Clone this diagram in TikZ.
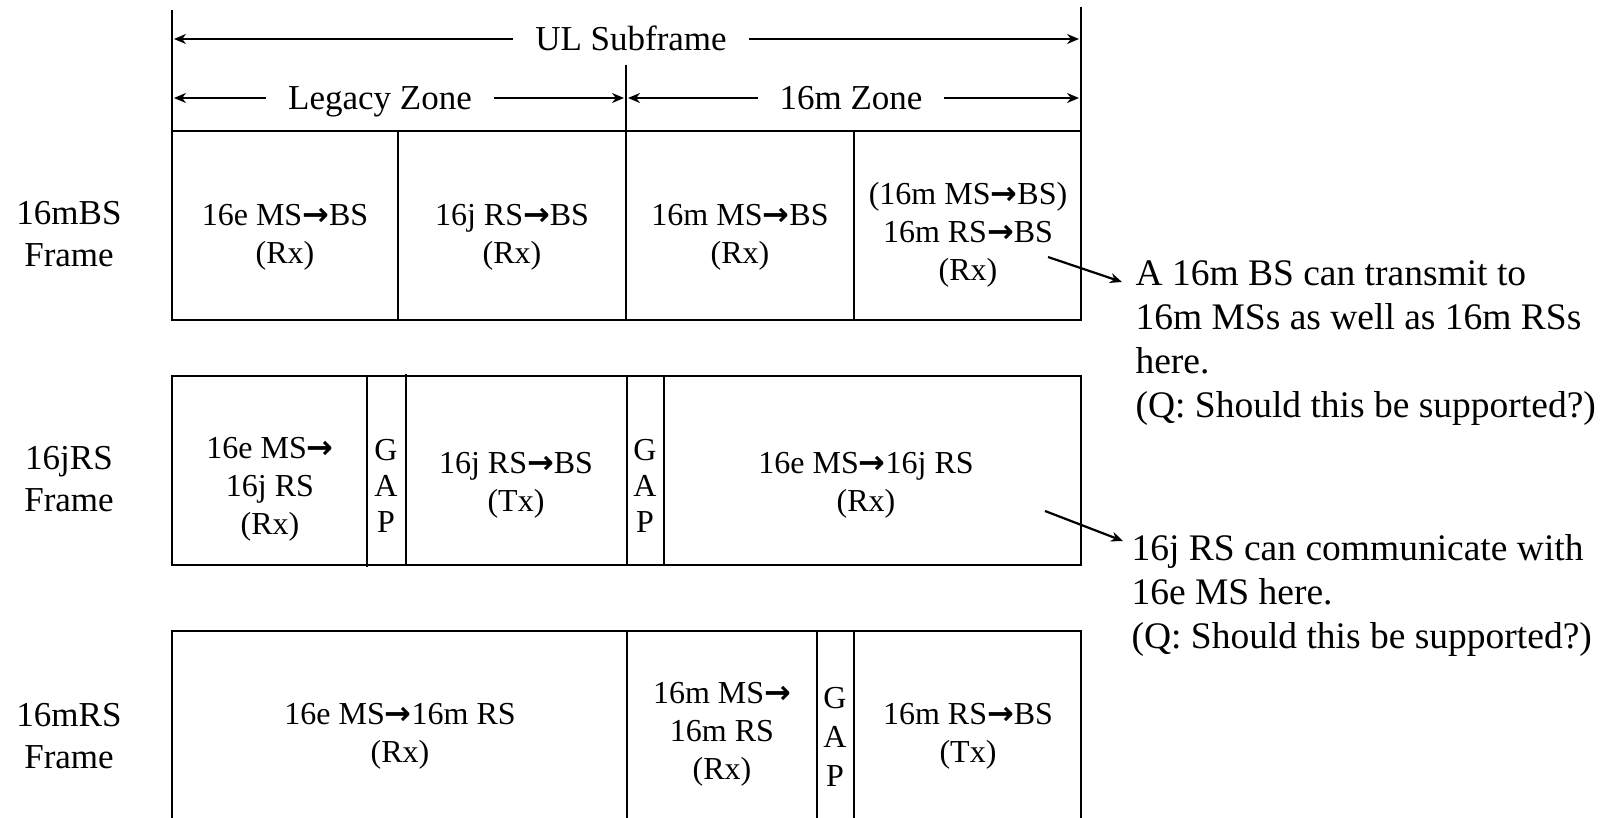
\documentclass[tikz,border=0pt]{standalone}
\usepackage{fontspec}
\setmainfont{Liberation Serif}
\newfontfamily\arrowfont{DejaVu Sans Bold}
\newcommand{\toarrow}{{\arrowfont\char"2192}}
\usetikzlibrary{arrows.meta,positioning}

\begin{document}
\begin{tikzpicture}[x=1pt, y=-1pt,
      cell/.style = {align=center, font=\fontsize{32}{38}\selectfont},
      gap/.style = {align=center, font=\fontsize{32}{36}\selectfont},
      rowlabel/.style = {align=center, font=\fontsize{35}{42}\selectfont},
      zone/.style = {fill=white, inner xsep=22pt, inner ysep=2pt, anchor=base, font=\fontsize{35}{42}\selectfont},
      note/.style = {align=left, anchor=west, font=\fontsize{37.5}{44}\selectfont},
      slot/.style = {line width=2.8pt},
      zonearrow/.style = {line width=2.2pt, {Stealth[length=12pt,width=10pt]}-{Stealth[length=12pt,width=10pt]}},
      pointer/.style = {line width=2.2pt, -{Stealth[length=12pt,width=10pt]}}]
      \useasboundingbox (0,0) rectangle (1602,818);

      % zone markers
      \draw[slot] (172,10) -- (172,131);
      \draw[slot] (1081,7) -- (1081,131);
      \draw[slot] (626,65) -- (626,131);
      \coordinate (ul-l) at (174,39);
      \coordinate (ul-r) at (1079,39);
      \coordinate (leg-l) at (174,98);
      \coordinate (leg-r) at (624,98);
      \coordinate (m-l) at (628,98);
      \coordinate (m-r) at (1079,98);
      \draw[zonearrow] (ul-l) -- (ul-r);
      \draw[zonearrow] (leg-l) -- (leg-r);
      \draw[zonearrow] (m-l) -- (m-r);
      \node[zone] (ul) at (631,51) {UL Subframe};
      \node[zone] (legacy) at (380,110) {Legacy Zone};
      \node[zone] (zone16m) at (851,110) {16m Zone};

      % 16m BS frame
      \node[rowlabel] (bslabel) at (69,234) {16mBS\\Frame};
      \draw[slot] (172,131) rectangle (1081,320);
      \draw[slot] (398,131) -- (398,320);
      \draw[slot] (626,131) -- (626,320);
      \draw[slot] (854,131) -- (854,320);
      \node[cell] (bs1) at (285,237) {16e MS\toarrow BS\\(Rx)};
      \node[cell] (bs2) at (512,237) {16j RS\toarrow BS\\(Rx)};
      \node[cell] (bs3) at (740,237) {16m MS\toarrow BS\\(Rx)};
      \node[cell] (bs4) at (968,235) {(16m MS\toarrow BS)\\16m RS\toarrow BS\\(Rx)};

      % 16j RS frame
      \node[rowlabel] (jlabel) at (69,479) {16jRS\\Frame};
      \draw[slot] (172,376) rectangle (1081,565);
      \draw[slot] (367,376) -- (367,567);
      \draw[slot] (406,374) -- (406,565);
      \draw[slot] (627,376) -- (627,565);
      \draw[slot] (664,376) -- (664,565);
      \node[cell] (j1) at (270,489) {16e MS\toarrow\\16j RS\\(Rx)};
      \node[gap] (jgap1) at (386,486) {G\\A\\P};
      \node[cell] (j2) at (516,485) {16j RS\toarrow BS\\(Tx)};
      \node[gap] (jgap2) at (645,486) {G\\A\\P};
      \node[cell] (j3) at (866,485) {16e MS\toarrow 16j RS\\(Rx)};

      % 16m RS frame
      \node[rowlabel] (mlabel) at (69,736) {16mRS\\Frame};
      \draw[slot] (172,818) -- (172,631) -- (1081,631) -- (1081,818);
      \draw[slot] (627,631) -- (627,818);
      \draw[slot] (817,631) -- (817,818);
      \draw[slot] (854,631) -- (854,818);
      \node[cell] (m1) at (400,736) {16e MS\toarrow 16m RS\\(Rx)};
      \node[cell] (m2) at (722,734) {16m MS\toarrow\\16m RS\\(Rx)};
      \node[gap, font=\fontsize{32}{39}\selectfont] (mgap) at (835,737) {G\\A\\P};
      \node[cell] (m3) at (968,736) {16m RS\toarrow BS\\(Tx)};

      % remarks
      \node[note] (note1) at (1132,343) {A 16m BS can transmit to\\16m MSs as well as 16m RSs\\here.\\(Q: Should this be supported?)};
      \node[note] (note2) at (1128,595) {16j RS can communicate with\\16e MS here.\\(Q: Should this be supported?)};
      \coordinate (p1) at (1048,257);
      \coordinate (q1) at (1122,282);
      \coordinate (p2) at (1045,511);
      \coordinate (q2) at (1123,541);
      \draw[pointer] (p1) -- (q1);
      \draw[pointer] (p2) -- (q2);
\end{tikzpicture}
\end{document}
